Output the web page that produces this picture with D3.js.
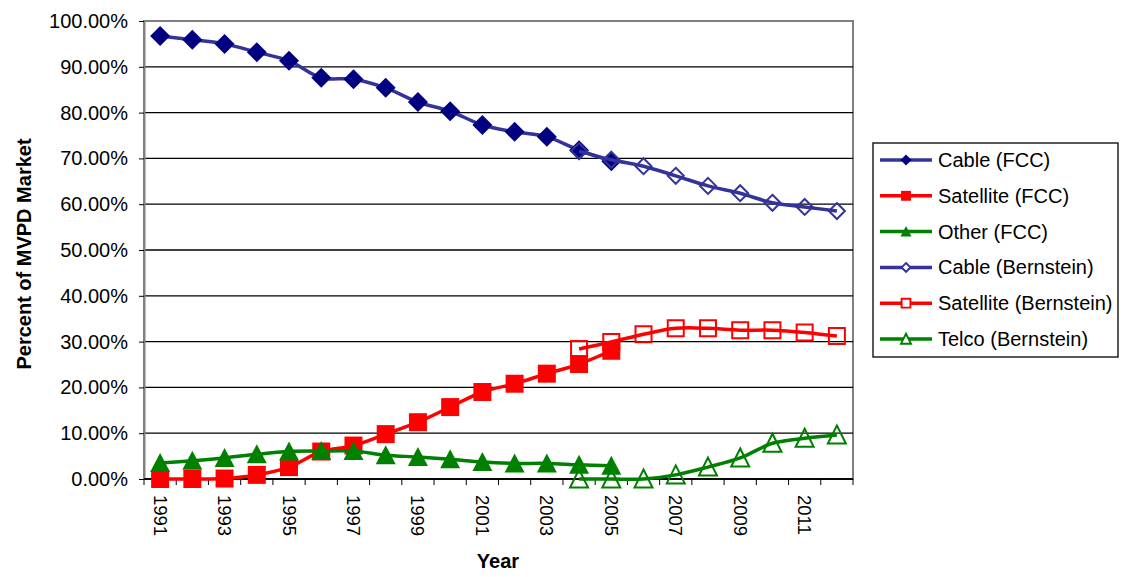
<!DOCTYPE html>
<head>
  <meta charset="utf-8">
  <script src="https://d3js.org/d3.v7.min.js"></script>
  <style>
    body { margin: 0; background: #fff; }
    text { font-family: Arial, "Liberation Sans", sans-serif; }
  </style>
</head>
<body>

<div id="my_dataviz"></div>

<script>

  // data (percent of market)
  var years = d3.range(1991, 2013);
  var yTicks = [0, 10, 20, 30, 40, 50, 60, 70, 80, 90, 100];

  var cableFCC = [96.7, 95.9, 95.0, 93.2, 91.3, 87.6, 87.3, 85.4, 82.3, 80.3, 77.3, 75.8, 74.7, 71.8, 69.4];
  var satelliteFCC = [0, 0, 0.1, 0.9, 2.6, 6.0, 7.3, 9.8, 12.4, 15.7, 19.0, 20.8, 23.0, 25.1, 28.0];
  var otherFCC = [3.5, 4.0, 4.6, 5.4, 6.0, 6.1, 6.1, 5.2, 4.8, 4.3, 3.7, 3.4, 3.4, 3.1, 2.9];
  var cableBern = [71.6, 69.7, 68.3, 66.2, 64.0, 62.4, 60.3, 59.4, 58.5];
  var satelliteBern = [28.4, 29.9, 31.6, 32.9, 32.9, 32.5, 32.5, 32.0, 31.2];
  var telcoBern = [0, 0, 0, 0.9, 2.6, 4.6, 7.8, 8.9, 9.6];

  var series = [
    {name: "Cable (FCC)", start: 1991, values: cableFCC, line: "#333399", color: "#000080", shape: "diamond", filled: true},
    {name: "Satellite (FCC)", start: 1991, values: satelliteFCC, line: "#ff0000", color: "#ff0000", shape: "square", filled: true},
    {name: "Other (FCC)", start: 1991, values: otherFCC, line: "#008000", color: "#008000", shape: "triangle", filled: true},
    {name: "Cable (Bernstein)", start: 2004, values: cableBern, line: "#333399", color: "#333399", shape: "diamond", filled: false},
    {name: "Satellite (Bernstein)", start: 2004, values: satelliteBern, line: "#ff0000", color: "#ff0000", shape: "square", filled: false},
    {name: "Telco (Bernstein)", start: 2004, values: telcoBern, line: "#008000", color: "#008000", shape: "triangle", filled: false}
  ];

  var margin = {top: 21, right: 272, bottom: 98, left: 144},
    width = 1125 - margin.left - margin.right,
    height = 577 - margin.top - margin.bottom;

  var svgRoot = d3.select("#my_dataviz")
    .append("svg")
      .attr("width", 1125)
      .attr("height", 577);

  var svg = svgRoot.append("g")
      .attr("transform", "translate(" + margin.left + "," + margin.top + ")");

  var x = d3.scaleBand()
    .range([0, width])
    .domain(years);

  var y = d3.scaleLinear()
    .range([height, 0])
    .domain([0, 100]);

  // plot border
  svg.append("rect")
    .attr("width", width)
    .attr("height", height)
    .style("fill", "none")
    .style("stroke", "#808080")
    .style("stroke-width", 2);

  // gridlines
  svg.selectAll(".grid")
    .data(yTicks.filter(function(d) { return d < 100; }))
    .enter()
    .append("line")
      .attr("x1", 0)
      .attr("x2", width)
      .attr("y1", function(d) { return y(d); })
      .attr("y2", function(d) { return y(d); })
      .style("stroke", "#000")
      .style("stroke-width", 1.3);

  // Y axis
  var yAxis = svg.append("g")
    .call(d3.axisLeft(y).tickValues(yTicks).tickSizeInner(5).tickSizeOuter(0)
      .tickFormat(function(d) { return d.toFixed(2) + "%"; }));
  yAxis.select(".domain").style("stroke", "#808080").style("stroke-width", 2);
  yAxis.selectAll(".tick line").style("stroke", "#000");
  yAxis.selectAll(".tick text")
    .attr("x", -16)
    .style("font-size", "20px")
    .style("fill", "#000")
    .style("font-family", "Arial, 'Liberation Sans', sans-serif");

  // X axis: ticks at band boundaries, labels on odd years
  var xAxis = svg.append("g")
    .attr("transform", "translate(0," + height + ")");
  xAxis.append("line")
    .attr("x1", 0).attr("x2", width)
    .style("stroke", "#000").style("stroke-width", 1.3);
  xAxis.selectAll(".xtick")
    .data(years.concat([2013]))
    .enter()
    .append("line")
      .attr("x1", function(d) { return d < 2013 ? x(d) : width; })
      .attr("x2", function(d) { return d < 2013 ? x(d) : width; })
      .attr("y1", 0)
      .attr("y2", 6)
      .style("stroke", "#000");
  xAxis.selectAll(".xlabel")
    .data(years.filter(function(d) { return d % 2 === 1; }))
    .enter()
    .append("text")
      .attr("transform", function(d) {
        return "translate(" + (x(d) + x.bandwidth() / 2) + ",16) rotate(90)";
      })
      .attr("dy", "0.35em")
      .style("text-anchor", "start")
      .style("font-size", "18.5px")
      .text(function(d) { return d; });

  // axis titles
  svgRoot.append("text")
    .attr("transform", "translate(31,254) rotate(-90)")
    .style("text-anchor", "middle")
    .style("font-size", "20px")
    .style("font-weight", "bold")
    .text("Percent of MVPD Market");

  svgRoot.append("text")
    .attr("x", 498)
    .attr("y", 568)
    .style("text-anchor", "middle")
    .style("font-size", "20px")
    .style("font-weight", "bold")
    .text("Year");

  // marker paths
  function markerPath(shape, filled) {
    if (shape === "diamond") {
      var r = filled ? 10 : 8;
      return "M0," + (-r) + "L" + r + ",0L0," + r + "L" + (-r) + ",0Z";
    }
    if (shape === "square") {
      var s = filled ? 9 : 8;
      return "M" + (-s) + "," + (-s) + "H" + s + "V" + s + "H" + (-s) + "Z";
    }
    var w = filled ? 10 : 9, h = filled ? 9 : 8.5;
    return "M0," + (-h - 1) + "L" + w + "," + h + "L" + (-w) + "," + h + "Z";
  }

  var line = d3.line()
    .curve(d3.curveCatmullRom.alpha(0.5))
    .x(function(d) { return x(d.year) + x.bandwidth() / 2; })
    .y(function(d) { return y(d.value); });

  series.forEach(function(s) {
    var pts = s.values.map(function(v, i) { return {year: s.start + i, value: v}; });
    var g = svg.append("g");
    g.append("path")
      .datum(pts)
      .attr("d", line)
      .style("fill", "none")
      .style("stroke", s.line)
      .style("stroke-width", 3.5);
    g.selectAll("path.mk")
      .data(pts)
      .enter()
      .append("path")
        .attr("class", "mk")
        .attr("transform", function(d) {
          return "translate(" + (x(d.year) + x.bandwidth() / 2) + "," + y(d.value) + ")";
        })
        .attr("d", markerPath(s.shape, s.filled))
        .style("fill", s.filled ? s.color : "none")
        .style("stroke", s.color)
        .style("stroke-width", s.filled ? 0 : 2);
  });

  // legend
  var legend = svgRoot.append("g")
    .attr("transform", "translate(873,143)");
  legend.append("rect")
    .attr("width", 245)
    .attr("height", 214)
    .style("fill", "#fff")
    .style("stroke", "#000")
    .style("stroke-width", 1.3);

  var item = legend.selectAll(".item")
    .data(series)
    .enter()
    .append("g")
      .attr("transform", function(d, i) { return "translate(0," + (17 + i * 35.8) + ")"; });
  item.append("line")
    .attr("x1", 7).attr("x2", 59)
    .style("stroke", function(d) { return d.line; })
    .style("stroke-width", 3.5);
  item.append("path")
    .attr("transform", "translate(33,0) scale(0.55)")
    .attr("d", function(d) { return markerPath(d.shape, d.filled); })
    .style("fill", function(d) { return d.filled ? d.color : "#fff"; })
    .style("stroke", function(d) { return d.color; })
    .style("stroke-width", function(d) { return d.filled ? 0 : 3.5; });
  item.append("text")
    .attr("x", 65)
    .attr("dy", "0.35em")
    .style("font-size", "20px")
    .text(function(d) { return d.name; });

</script>

</body>
